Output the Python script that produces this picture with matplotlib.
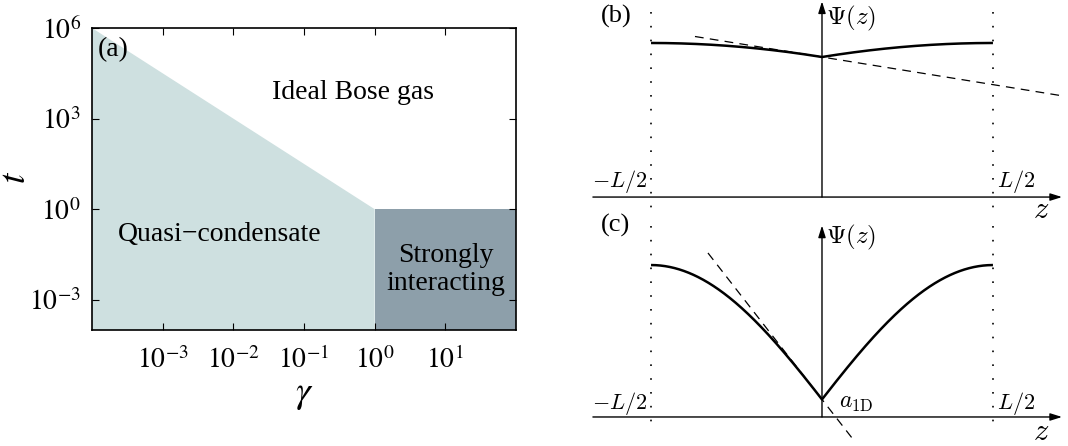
import numpy as np
import matplotlib
matplotlib.use("Agg")
from matplotlib import pyplot as plt
from matplotlib.patches import Polygon, Rectangle

plt.rcParams['font.family'] = ['Liberation Serif', 'DejaVu Serif']
plt.rcParams['mathtext.fontset'] = 'cm'

# phase diagram (a): crossover lines in the (gamma, t) plane
gamma_range = [1e-4, 1e2]
t_range = [1e-4, 1e6]
gamma_cross = [1e-4, 1e0]      # t = gamma^(-3/2) crossover, from corner to gamma = 1
t_cross = [1e6, 1e0]
strong_gamma = [1e0, 1e2]      # strongly interacting block
strong_t = [1e-4, 1e0]
xticks = [1e-3, 1e-2, 1e-1, 1e0, 1e1]
xtick_labels = ['$10^{-3}$', '$10^{-2}$', '$10^{-1}$', '$10^{0}$', '$10^{1}$']
yticks = [1e-3, 1e0, 1e3, 1e6]
ytick_labels = ['$10^{-3}$', '$10^{0}$', '$10^{3}$', '$10^{6}$']
region_names = ['Ideal Bose gas', 'Quasi\u2212condensate', 'Strongly\ninteracting']

# wavefunction sketches (b), (c): psi(z) = cos(k(|z| - L/2)), L/2 = 1
theta = {'b': 0.43, 'c': 1.455}          # k L/2
dash_z = {'b': [-0.743, 1.404], 'c': [-0.667, 0.193]}

light = '#cee0e0'
dark = '#8d9faa'

fig = plt.figure(figsize=(10.68, 4.46), dpi=100)

# ---- (a) ----
ax = fig.add_axes([92/1068, 1-330/446, 424/1068, 302/446])
ax.set_xscale('log')
ax.set_yscale('log')
ax.set_xlim(gamma_range)
ax.set_ylim(t_range)
poly = [(gamma_cross[0], t_range[0]), (gamma_cross[0], t_cross[0]),
        (gamma_cross[1], t_cross[1]), (gamma_cross[1], t_range[0])]
ax.add_patch(Polygon(poly, closed=True, facecolor=light, edgecolor='none', zorder=0))
ax.add_patch(Rectangle((strong_gamma[0], strong_t[0]), strong_gamma[1]-strong_gamma[0],
                       strong_t[1]-strong_t[0], facecolor=dark, edgecolor='none', zorder=0))
ax.set_xticks(xticks)
ax.set_yticks(yticks)
ax.minorticks_off()
tick_font = dict(fontsize=20, math_fontfamily='stix')
ax.set_xticklabels(xtick_labels, **tick_font)
ax.set_yticklabels(ytick_labels, **tick_font)
ax.tick_params(which='both', direction='in', top=True, right=True, length=5, width=0.8)
ax.tick_params(axis='x', pad=12)
ax.tick_params(axis='y', pad=8)
for s in ax.spines.values():
    s.set_linewidth(1.2)
ax.set_xlabel(r'$\gamma$', fontsize=27, math_fontfamily='stix', labelpad=2)
# y label placed by hand so it stays inside the figure
fig.text(16/1068, 1-177/446, r'$t$', fontsize=27, math_fontfamily='stix',
         rotation=90, ha='center', va='center')
ax.text(0.014, 0.93, '(a)', transform=ax.transAxes, fontsize=20, va='center', ha='left')
ax.text(0.616, 0.785, region_names[0], transform=ax.transAxes, fontsize=20, ha='center', va='center')
ax.text(0.30, 0.315, region_names[1], transform=ax.transAxes, fontsize=20, ha='center', va='center')
ax.text(0.835, 0.2, region_names[2], transform=ax.transAxes, fontsize=20, ha='center', va='center',
        linespacing=1.15)


# ---- (b), (c) ----
def sketch(rect, ylim, th, dz, name, vtop, dot_range, label_y, show_a):
    a = fig.add_axes(rect)
    a.set_xlim(-1.474, 1.439)
    a.set_ylim(ylim)
    a.axis('off')
    z = np.linspace(-1, 1, 801)
    psi = np.cos(th*(np.abs(z) - 1))
    a.plot(z, psi, color='k', lw=1.8, solid_capstyle='butt', zorder=3)
    # tangent of the left branch at z = 0
    psi0 = np.cos(th)
    slope = -th*np.sin(th)
    zz = np.array(dz)
    a.plot(zz, psi0 + slope*zz, color='k', lw=0.9, dashes=(7, 5), zorder=2)
    # axes with arrows
    arrow = dict(arrowstyle='-|>,head_length=0.7,head_width=0.22', color='k', lw=1.0,
                 shrinkA=0, shrinkB=0)
    a.annotate('', xy=(1.404, 0), xytext=(-1.34, 0), arrowprops=arrow)
    a.annotate('', xy=(0, vtop), xytext=(0, 0), arrowprops=arrow)
    # box edges at -L/2, L/2
    for x0 in (-1, 1):
        a.plot([x0, x0], dot_range, color='k', lw=1.2, ls=(0, (1, 7.3)), zorder=1)
    a.text(-1.205, label_y[0], name, fontsize=19, ha='center', va='center')
    a.text(0.025, label_y[1], r'$\Psi(z)$', fontsize=18, ha='left', va='center')
    a.text(-1.02, label_y[2], r'$-L/2$', fontsize=16, ha='right', va='center')
    a.text(1.025, label_y[2], r'$L/2$', fontsize=16, ha='left', va='center')
    a.text(1.28, label_y[3], r'$z$', fontsize=22, ha='center', va='center')
    if show_a:
        a.text(0.1, label_y[2], r'$a_{\rm 1D}$', fontsize=17, ha='left', va='center')
    return a


sketch([570/1068, 1-214/446, 498/1068, 214/446], (-0.110, 1.279), theta['b'], dash_z['b'],
       '(b)', 1.27, [1.20, -0.10], [1.175, 1.16, 0.10, -0.09], False)
sketch([570/1068, 0, 498/1068, 232/446], (-0.191, 1.336), theta['c'], dash_z['c'],
       '(c)', 1.26, [1.26, -0.10], [1.26, 1.18, 0.09, -0.10], True)

fig.savefig('out.png', dpi=100)
